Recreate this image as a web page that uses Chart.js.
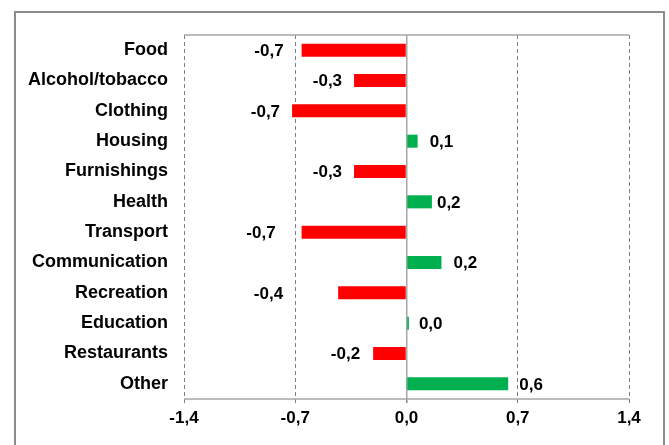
<!DOCTYPE html>
<html>
<head>
<meta charset="utf-8">
<script src="https://cdn.jsdelivr.net/npm/chart.js@4/dist/chart.umd.min.js"></script>
<style>
  html, body { margin: 0; padding: 0; background: #fff; }
  #wrap { position: relative; width: 669px; height: 445px; overflow: hidden; }
  #frame {
    position: absolute; left: 14px; top: 11px; width: 651px; height: 470px;
    border: 2px solid #8c8c8c; box-sizing: border-box;
  }
  #c { position: absolute; left: 0; top: 0; }
</style>
</head>
<body>
<div id="wrap">
  <div id="frame"></div>
  <canvas id="c" width="669" height="445"></canvas>
</div>
<script>
// categories and values
const categories = ["Food", "Alcohol/tobacco", "Clothing", "Housing", "Furnishings", "Health",
  "Transport", "Communication", "Recreation", "Education", "Restaurants", "Other"];
const values = [-0.66, -0.33, -0.72, 0.07, -0.33, 0.16, -0.66, 0.22, -0.43, 0.015, -0.21, 0.64];
const xTicks = [-1.4, -0.7, 0, 0.7, 1.4];

// gap between bar end and its value label (px), labels were moved by hand in the original
const labelGap = [18, 12, 12, 12, 12, 5, 26, 12, 55, 10, 13, 11];

const RED = "#ff0000";
const GREEN = "#00b050";
const FONT = "'Liberation Sans', Arial, sans-serif";

const fmt = (v) => v.toFixed(1).replace(".", ",");

const frameLines = {
  id: "frameLines",
  beforeDatasetsDraw(chart) {
    const { ctx, chartArea: a } = chart;
    ctx.save();
    ctx.strokeStyle = "#a6a6a6";
    ctx.lineWidth = 1.5;
    ctx.beginPath();
    ctx.moveTo(a.left, a.top); ctx.lineTo(a.right, a.top);
    ctx.moveTo(a.left, a.bottom); ctx.lineTo(a.right, a.bottom);
    ctx.stroke();
    ctx.restore();
  },
};

const valueLabels = {
  id: "valueLabels",
  afterDatasetsDraw(chart) {
    const { ctx } = chart;
    const meta = chart.getDatasetMeta(0);
    ctx.save();
    ctx.font = `bold 17px ${FONT}`;
    ctx.fillStyle = "#000";
    ctx.textBaseline = "middle";
    meta.data.forEach((bar, i) => {
      const v = values[i];
      if (v < 0) {
        ctx.textAlign = "right";
        ctx.fillText(fmt(v), bar.x - labelGap[i], bar.y + 1);
      } else {
        ctx.textAlign = "left";
        ctx.fillText(fmt(v), bar.x + labelGap[i], bar.y + 1);
      }
    });
    ctx.restore();
  },
};

new Chart(document.getElementById("c"), {
  type: "bar",
  data: {
    labels: categories,
    datasets: [{
      data: values,
      backgroundColor: values.map((v) => (v < 0 ? RED : GREEN)),
      borderWidth: 0,
      barPercentage: 0.43,
      categoryPercentage: 1,
    }],
  },
  options: {
    indexAxis: "y",
    responsive: false,
    animation: false,
    layout: { padding: { top: 35, right: 40, left: 0, bottom: 0 } },
    plugins: { legend: { display: false }, tooltip: { enabled: false } },
    scales: {
      x: {
        min: -1.4,
        max: 1.4,
        afterBuildTicks: (s) => { s.ticks = xTicks.map((v) => ({ value: v })); },
        afterFit: (s) => { s.height = 46; },
        ticks: {
          callback: (v) => fmt(v),
          color: "#000",
          font: { family: FONT, size: 17, weight: "bold" },
          padding: 5,
          maxRotation: 0,
        },
        grid: {
          color: (c) => (c.tick && c.tick.value === 0 ? "#a6a6a6" : "#808080"),
          lineWidth: (c) => (c.tick && c.tick.value === 0 ? 1.5 : 1),
          tickLength: 4,
          tickColor: "#808080",
        },
        border: {
          display: false,
          dash: (c) => (c.tick && c.tick.value !== 0 ? [4, 3] : []),
        },
      },
      y: {
        afterFit: (s) => { s.width = 184; },
        ticks: {
          color: "#000",
          font: { family: FONT, size: 18, weight: "bold" },
          padding: 16,
        },
        grid: { display: false, drawTicks: false },
        border: { display: false },
      },
    },
  },
  plugins: [frameLines, valueLabels],
});
</script>
</body>
</html>
